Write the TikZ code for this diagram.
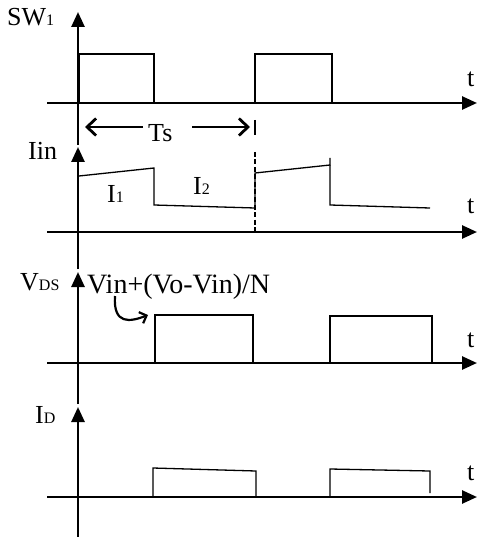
\documentclass[tikz,border=0pt]{standalone}
\usepackage{fontspec}
\setmainfont{Liberation Serif}
\usetikzlibrary{arrows.meta}
\newcommand{\subtxt}[1]{{\fontsize{16}{16}\selectfont #1}}

\begin{document}
\begin{tikzpicture}[x=1pt,y=-1pt,
every node/.style={font=\fontsize{26}{28}\selectfont,inner sep=0pt,anchor=base west},
axis/.style={line width=2.6pt,-{Triangle[length=15pt,width=13pt]}},
wave/.style={line width=1.3pt,line join=miter},
span/.style={line width=2.8pt,-{Straight Barb[length=9pt,width=17pt]}}]
\useasboundingbox (0,0) rectangle (478,537);
% axes of the four panels
\foreach \y/\ytop/\ybot in {103/12/145,232/147/269,363/272/404,497/407/537}{
  \draw[axis] (47,\y)--(477,\y);
  \draw[axis] (78,\ybot)--(78,\ytop);}
% labels
\node (sw) at (7,26) {SW\subtxt{1}};
\node (iin) at (28,160) {Iin};
\node (vds) at (20,290) {V\subtxt{DS}};
\node (id) at (35,423) {I\subtxt{D}};
\foreach \y in {87,213,347,480}\node at (467,\y) {t};
% switch signal
\draw[wave] (79,103)--(79,54)--(154,54)--(154,103);
\draw[wave] (255,103)--(255,54)--(332,54)--(332,103);
% period Ts
\node (ts) at (148,142) {Ts};
\draw[span] (143,127)--(85,127);
\draw[span] (192,127)--(250,127);
\draw[line width=1.2pt] (255,120)--(255,135);
\draw[line width=2.2pt,dash pattern=on 5pt off 2.5pt] (255,152)--(255,232);
% input current
\draw[wave] (79,176)--(154,168)--(154,205)--(255,208)--(255,173)--(330,165)--(330,158);
\draw[wave] (330,165)--(330,205)--(430,208);
\node (i1) at (107,202) {I\subtxt{1}};
\node (i2) at (193,195) {I\subtxt{2}};
% drain-source voltage
\node[font=\fontsize{28}{30}\selectfont] (vval) at (87,293) {Vin+(Vo-Vin)/N};
\draw[wave] (79,363)--(155,363)--(155,315)--(253,315)--(253,363);
\draw[wave] (330,363)--(330,316)--(432,316)--(432,363);
\draw[line width=2.2pt,-{Straight Barb[length=6pt,width=12pt]}] (115,296) .. controls (113,325) and (130,322) .. (148,315);
% diode current
\draw[wave] (153,497)--(153,468)--(256,471)--(256,497);
\draw[wave] (330,497)--(330,469)--(430,471)--(430,493);
\end{tikzpicture}
\end{document}
